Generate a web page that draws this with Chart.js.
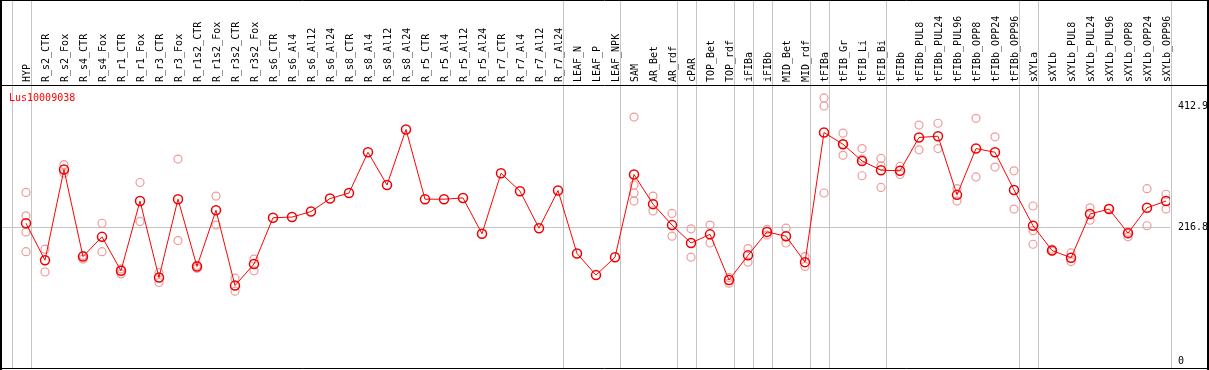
<!DOCTYPE html>
<html>
<head>
<meta charset="utf-8">
<script src="https://cdn.jsdelivr.net/npm/chart.js@4.4.0/dist/chart.umd.min.js"></script>
<style>
html,body{margin:0;padding:0;background:#fff;}
#wrap{width:1209px;height:370px;}
</style>
</head>
<body>
<div id="wrap"><canvas id="c" width="1209" height="370"></canvas></div>
<script>
const geneName = "Lus10009038";
const categories = ["HYP","R_s2_CTR","R_s2_Fox","R_s4_CTR","R_s4_Fox","R_r1_CTR","R_r1_Fox","R_r3_CTR","R_r3_Fox","R_r1s2_CTR","R_r1s2_Fox","R_r3s2_CTR","R_r3s2_Fox","R_s6_CTR","R_s6_Al4","R_s6_Al12","R_s6_Al24","R_s8_CTR","R_s8_Al4","R_s8_Al12","R_s8_Al24","R_r5_CTR","R_r5_Al4","R_r5_Al12","R_r5_Al24","R_r7_CTR","R_r7_Al4","R_r7_Al12","R_r7_Al24","LEAF_N","LEAF_P","LEAF_NPK","SAM","AR_Bet","AR_rdf","cPAR","TOP_Bet","TOP_rdf","iFIBa","iFIBb","MID_Bet","MID_rdf","tFIBa","tFIB_Gr","tFIB_Li","tFIB_Bi","tFIBb","tFIBb_PUL8","tFIBb_PUL24","tFIBb_PUL96","tFIBb_OPP8","tFIBb_OPP24","tFIBb_OPP96","sXYLa","sXYLb","sXYLb_PUL8","sXYLb_PUL24","sXYLb_PUL96","sXYLb_OPP8","sXYLb_OPP24","sXYLb_OPP96"];
const means = [224,164,311,170,202,147,260,136,263,154,245,123,158,233,234,243,264,273,339,286,376,263,263,265,207,305,276,216,277,175,140,169,303,255,221,192,206,132,172,210,203,161,371,352,325,310,309,363,365,270,345,339,278,220,180,168,239,247,208,249,260];
const replicates = [
  [274,236,210,178],[182,145],[319,305],[166,172],[224,178],[142,150],[290,227],[128,144],[328,196],[151,156],[268,221],[135,114],[166,147],
  [],[],[],[],[],[],[],[],[],[],[],[],[],[],[],[],
  [],[],[],
  [396,286,273,260],[268,244],[240,203],[215,169],[221,192],[136,127],[183,161],[214,205],[216,192],[170,154],
  [427,414,273],[370,334,352],[345,301,328],[329,282,317],
  [316,303],[383,343],[386,345],[280,260],[394,299],[364,315],[309,247],
  [252,212,190],[182,179],[176,162],[249,229],[248],[210,202],[280,220],[271,247]
];
const yTicks = [0, 216.8, 412.9];
const groupEnds = [-1,0,28,31,34,35,37,38,39,41,42,45,52,53,60];

const meanPts = means.map((v,i)=>({x:i,y:v}));
const repPts = [];
replicates.forEach((arr,i)=>arr.forEach(v=>repPts.push({x:i,y:v})));

const FONT = {family:"'DejaVu Sans Mono', monospace", size:10};

const decor = {
  id:'decor',
  beforeDatasetsDraw(chart){
    const ctx = chart.ctx, xs = chart.scales.x;
    ctx.save();
    ctx.strokeStyle = '#c4c4c4';
    ctx.lineWidth = 1;
    groupEnds.forEach(b=>{
      const px = Math.round(xs.getPixelForValue(b+0.24))+0.5;
      ctx.beginPath(); ctx.moveTo(px,0); ctx.lineTo(px,chart.chartArea.bottom); ctx.stroke();
    });
    ctx.restore();
  },
  afterDraw(chart){
    const ctx = chart.ctx, a = chart.chartArea;
    ctx.save();
    ctx.strokeStyle = '#000';
    ctx.lineWidth = 1;
    ctx.beginPath();
    ctx.moveTo(0, a.top+0.5); ctx.lineTo(1209, a.top+0.5);
    ctx.moveTo(0, 368.5); ctx.lineTo(1209, 368.5);
    ctx.moveTo(0, 0.5); ctx.lineTo(1209, 0.5);
    ctx.stroke();
    ctx.lineWidth = 2;
    ctx.beginPath();
    ctx.moveTo(1,0); ctx.lineTo(1,370);
    ctx.moveTo(1208,0); ctx.lineTo(1208,370);
    ctx.stroke();
    ctx.fillStyle = '#ff0000';
    ctx.font = "10px 'DejaVu Sans Mono', monospace";
    ctx.textBaseline = 'alphabetic';
    ctx.textAlign = 'left';
    ctx.fillText(geneName, 9, 101);
    ctx.restore();
  }
};

new Chart(document.getElementById('c'), {
  type:'scatter',
  data:{datasets:[
    {label:'mean', data:meanPts, showLine:true, borderColor:'#ff0000', borderWidth:1,
     pointRadius:4.5, pointBorderWidth:1.5, pointBorderColor:'#ee0000', pointBackgroundColor:'rgba(0,0,0,0)', order:1, tension:0},
    {label:'rep', data:repPts, showLine:false, pointRadius:4, pointBorderWidth:1.2,
     pointBorderColor:'#f09a9a', pointBackgroundColor:'rgba(0,0,0,0)', order:2}
  ]},
  options:{
    responsive:false, animation:false, devicePixelRatio:1,
    layout:{autoPadding:false, padding:{left:2,right:0,top:0,bottom:2}},
    plugins:{legend:{display:false}, tooltip:{enabled:false}},
    scales:{
      x:{type:'linear', position:'top', min:-1.263, max:60.21, offset:false,
         grid:{display:false, drawTicks:false}, border:{display:false},
         afterBuildTicks:s=>{s.ticks = categories.map((c,i)=>({value:i}));},
         afterFit:s=>{s.height = 85; s.paddingLeft = 0; s.paddingRight = 0; s.paddingTop = 0; s.paddingBottom = 0;},
         ticks:{autoSkip:false, maxRotation:90, minRotation:90, padding:3, labelOffset:13, color:'#000', font:FONT,
                callback:v=>categories[v]}},
      y:{type:'linear', position:'right', min:-10.5, max:448,
         grid:{drawTicks:false, color:c=>c.tick && c.tick.value===216.8 ? '#c4c4c4' : 'rgba(0,0,0,0)'},
         border:{display:false},
         afterBuildTicks:s=>{s.ticks = yTicks.map(v=>({value:v}));},
         afterFit:s=>{s.width = 39; s.paddingLeft = 0; s.paddingRight = 0; s.paddingTop = 0; s.paddingBottom = 0;},
         ticks:{padding:8, color:'#000', font:FONT, callback:v=>String(v)}}
    }
  },
  plugins:[decor]
});
</script>
</body>
</html>
